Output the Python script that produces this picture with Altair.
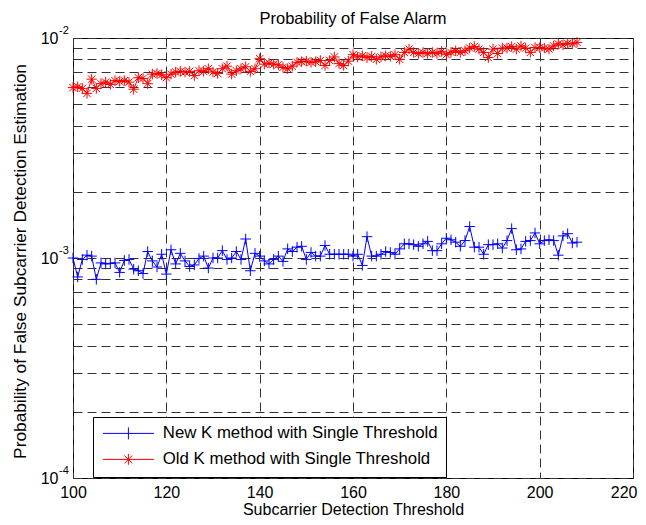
import altair as alt
import pandas as pd

x_vals = list(range(100, 209))

# New K method (units of 1e-4)
new_k_e4 = [
    10.0, 8.2, 9.85, 10.3, 10.2, 8.0, 9.5, 9.4, 9.45, 9.5,
    8.6, 9.75, 9.85, 8.9, 8.75, 8.5, 10.7, 9.7, 9.1, 10.4,
    8.45, 10.9, 9.4, 10.5, 9.7, 9.15, 9.3, 9.95, 10.2, 9.0,
    10.0, 10.0, 10.8, 9.85, 10.0, 10.7, 9.85, 12.2, 8.75, 10.5,
    10.2, 9.7, 9.4, 9.85, 10.2, 9.65, 11.0, 10.7, 11.2, 11.3,
    9.85, 10.6, 10.2, 10.2, 11.4, 10.4, 10.4, 10.4, 10.4, 10.4,
    10.2, 10.4, 9.25, 12.5, 10.2, 10.2, 10.4, 10.7, 10.6, 10.4,
    11.0, 11.6, 11.6, 11.5, 11.3, 11.6, 11.9, 10.8, 10.8, 11.6,
    12.3, 12.1, 11.8, 11.3, 12.0, 13.9, 11.2, 11.2, 10.4, 11.5,
    11.5, 11.6, 11.1, 12.0, 13.6, 10.9, 11.0, 11.9, 12.0, 13.0,
    11.6, 12.0, 12.1, 12.0, 10.3, 12.6, 12.9, 11.7, 11.8,
]

# Old K method (units of 1e-3)
old_k_e3 = [
    5.95, 6.0, 5.9, 5.6, 6.5, 5.9, 6.2, 6.3, 6.15, 6.4,
    6.35, 6.4, 6.3, 5.85, 6.6, 6.55, 6.2, 6.85, 6.9, 6.8,
    6.6, 6.85, 7.0, 7.05, 7.0, 7.05, 6.75, 7.1, 7.05, 7.25,
    7.0, 6.9, 7.25, 7.45, 6.85, 7.1, 7.25, 7.4, 7.05, 7.25,
    8.05, 7.6, 7.7, 7.6, 7.55, 7.35, 7.25, 7.45, 7.75, 7.8,
    7.85, 7.75, 7.8, 7.9, 7.5, 7.9, 8.2, 7.65, 7.5, 7.85,
    8.4, 8.2, 8.3, 8.15, 8.25, 8.0, 8.2, 8.3, 8.25, 8.4,
    8.0, 8.6, 8.9, 8.6, 8.5, 8.6, 8.5, 8.6, 8.5, 8.7,
    8.4, 8.6, 8.75, 8.6, 8.75, 9.0, 9.15, 8.9, 8.6, 8.15,
    8.9, 8.5, 9.0, 9.0, 9.15, 8.9, 9.2, 9.0, 8.6, 9.05,
    9.05, 9.0, 8.9, 9.2, 9.4, 9.3, 9.45, 9.4, 9.55,
]

series_names = ["New K method with Single Threshold", "Old K method with Single Threshold"]
series_colors = ["#0000ff", "#ff0000"]
x_ticks = [100, 120, 140, 160, 180, 200, 220]
y_grid = [m * 1e-4 for m in range(1, 10)] + [m * 1e-3 for m in range(1, 10)] + [1e-2]
decades = [1e-4, 1e-3, 1e-2]
exponents = ["-4", "-3", "-2"]

new_k = [v * 1e-4 for v in new_k_e4]
old_k = [v * 1e-3 for v in old_k_e3]

df = pd.DataFrame({
    "x": x_vals + x_vals,
    "value": new_k + old_k,
    "series": [series_names[0]] * len(x_vals) + [series_names[1]] * len(x_vals),
})
exp_df = pd.DataFrame({"value": decades, "exp": exponents})

FONT = "Liberation Sans"
PLUS = "M-1,0H1M0,-1V1"
STAR = "M-1,0H1M0,-1V1M-0.7,-0.7L0.7,0.7M-0.7,0.7L0.7,-0.7"
LEG_PLUS = "M-4.25,0H4.25M0,-1V1"
LEG_STAR = "M-4.25,0H4.25M0,-0.9V0.9M-0.65,-0.65L0.65,0.65M-0.65,0.65L0.65,-0.65"

yscale = alt.Scale(type="log", domain=[1e-4, 1e-2], nice=False)
xscale = alt.Scale(domain=[100, 220], nice=False)
cscale = alt.Scale(domain=series_names, range=series_colors)

def make_legend():
    return alt.Legend(
        title=None,
        orient="none",
        legendX=20,
        legendY=379,
        labelFont=FONT,
        labelFontSize=16.8,
        labelLimit=500,
        labelColor="black",
        padding=8,
        rowPadding=8,
        strokeColor="black",
        fillColor="white",
        symbolSize=144,
        symbolStrokeWidth=1,
        symbolOffset=19,
        labelOffset=26,
    )

x_enc = alt.X("x:Q", scale=xscale, axis=alt.Axis(
    values=x_ticks, grid=True, gridDash=[9, 5], gridColor="#333", gridOpacity=1,
    ticks=False, tickSize=0, domain=False, labelFont=FONT, labelFontSize=16,
    labelPadding=6, labelFlush=False, labelColor="black",
    labelAlign={"condition": {"test": "datum.value >= 220", "value": "right"}, "value": "center"},
    labelOffset={"condition": {"test": "datum.value >= 220", "value": 4}, "value": 0},
    title="Subcarrier Detection Threshold", titleFont=FONT, titleFontSize=16,
    titleFontWeight="normal", titleY=31, titleBaseline="middle", titleColor="black"))
y_enc = alt.Y("value:Q", scale=yscale, axis=alt.Axis(
    values=y_grid, grid=True, gridDash=[9, 5], gridColor="#333", gridOpacity=1,
    ticks=False, tickSize=0, domain=False, labelFont=FONT, labelFontSize=16,
    labelPadding=15, labelFlush=False, labelColor="black",
    labelExpr="abs(log(datum.value)/LN10 - round(log(datum.value)/LN10)) < 0.000001 ? '10' : ''",
    title="Probability of False Subcarrier Detection Estimation", titleFont=FONT,
    titleFontSize=17.3, titleFontWeight="normal", titleX=-53, titleY=223,
    titleBaseline="middle", titleAlign="center", titleColor="black"))

base = alt.Chart(df).encode(
    x=x_enc,
    y=y_enc,
    color=alt.Color("series:N", scale=cscale, legend=None),
)

lines = base.mark_line(strokeWidth=1)
points = base.mark_point(filled=False, strokeWidth=1, size=110, opacity=1).encode(
    shape=alt.Shape("series:N", scale=alt.Scale(domain=series_names, range=[PLUS, STAR]), legend=None)
)

legend_layer = alt.Chart(df).transform_filter("datum.x < 0").mark_point(
    filled=False, strokeWidth=1, size=144, opacity=1
).encode(
    x=alt.X("x:Q", scale=xscale),
    y=alt.Y("value:Q", scale=yscale),
    color=alt.Color("series:N", scale=cscale, legend=make_legend()),
    shape=alt.Shape("series:N", scale=alt.Scale(domain=series_names, range=[LEG_PLUS, LEG_STAR]),
                    legend=make_legend()),
)

exp_text = alt.Chart(exp_df).mark_text(
    align="left", baseline="middle", dy=-7, fontSize=11, font=FONT, color="black"
).encode(
    x=alt.value(-14),
    y=alt.Y("value:Q", scale=yscale),
    text="exp:N",
)

chart = alt.layer(lines, points, legend_layer, exp_text).resolve_scale(
    color="independent", shape="independent"
).properties(
    width=560,
    height=440,
    padding={"left": 65, "top": 30, "right": 5, "bottom": 39},
    autosize=alt.AutoSizeParams(type="none"),
    background="white",
    title=alt.TitleParams("Probability of False Alarm", font=FONT, fontSize=16.5,
                          fontWeight="normal", offset=2, dy=4, color="black"),
).configure_view(stroke="black", strokeWidth=1)

chart.save("out.html", embed_options={"renderer": "svg", "actions": False})
